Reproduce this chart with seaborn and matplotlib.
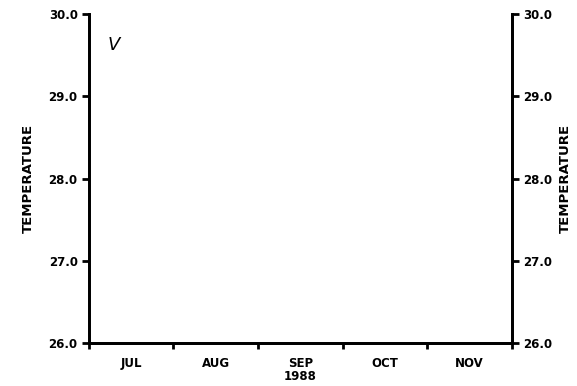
import matplotlib
matplotlib.use("Agg")
import matplotlib.pyplot as plt
import seaborn as sns
import pandas as pd

# Month axis: one slot per month, labels sit in the middle of each slot
months = ["JUL", "AUG", "SEP\n1988", "OCT", "NOV"]
month_bounds = [0, 1, 2, 3, 4, 5]
temp_ticks = [26.0, 27.0, 28.0, 29.0, 30.0]
temp_range = (26.0, 30.0)

# no temperature series was drawn on the original sheet
month_pos = []
temperature = []

sns.set_style("ticks")
plt.rcParams['font.family'] = ['DejaVu Sans']
plt.rcParams['text.color'] = 'black'
plt.rcParams['xtick.color'] = 'black'
plt.rcParams['ytick.color'] = 'black'
plt.rcParams['axes.edgecolor'] = 'black'
plt.rcParams['axes.labelcolor'] = 'black'

fig = plt.figure(figsize=(5.77, 3.86), dpi=100)
ax = fig.add_axes([0.154, 0.111, 0.733, 0.853])

df = pd.DataFrame({"month": month_pos, "temp": temperature})
sns.lineplot(data=df, x="month", y="temp", ax=ax, color="black")

ax.set_xlim(month_bounds[0], month_bounds[-1])
ax.set_ylim(*temp_range)

# boundary ticks without labels, month names at the centres
ax.set_xticks(month_bounds)
ax.set_xticklabels([])
ax.set_xticks([b + 0.5 for b in month_bounds[:-1]], minor=True)
ax.set_xticklabels(months, minor=True, fontsize=8.5, fontweight="bold",
                   linespacing=1.0)
ax.tick_params(axis="x", which="major", length=4, width=2, direction="out")
ax.tick_params(axis="x", which="minor", length=0, pad=10)

ax.set_yticks(temp_ticks)
ax.set_yticklabels([f"{t:.1f}" for t in temp_ticks], fontsize=8.5, fontweight="bold")
ax.tick_params(axis="y", length=5, width=2, direction="out", pad=3)

ax.set_xlabel("")
ax.set_ylabel("TEMPERATURE", fontsize=9.5, fontweight="bold", labelpad=10)

# mirrored axis on the right
ax2 = ax.twinx()
ax2.set_ylim(*temp_range)
ax2.set_yticks(temp_ticks)
ax2.set_yticklabels([f"{t:.1f}" for t in temp_ticks], fontsize=8.5, fontweight="bold")
ax2.tick_params(axis="y", length=5, width=2, direction="out", pad=3)
ax2.set_ylabel("TEMPERATURE", fontsize=9.5, fontweight="bold", labelpad=5)

for a in (ax, ax2):
    a.spines["top"].set_visible(False)
    for s in ("left", "right", "bottom"):
        a.spines[s].set_linewidth(2)

# handwritten mark near the top left corner
ax.text(0.3, 29.62, "V", fontsize=13, fontstyle="italic", color="black",
        ha="center", va="center")

fig.savefig("out.png", dpi=100)
